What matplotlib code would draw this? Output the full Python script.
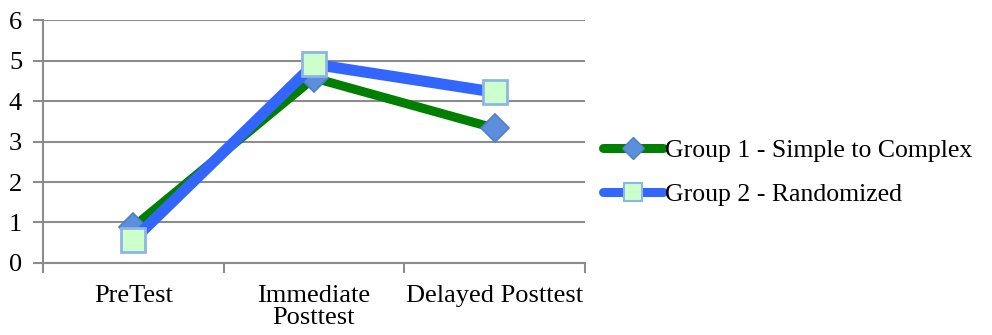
import matplotlib
matplotlib.use("Agg")
import matplotlib.pyplot as plt
from matplotlib.lines import Line2D

categories = ["PreTest", "Immediate\nPosttest", "Delayed Posttest"]
group1 = [0.89, 4.57, 3.33]
group2 = [0.57, 4.91, 4.22]
series_names = ["Group 1 - Simple to Complex", "Group 2 - Randomized"]
y_ticks = [0, 1, 2, 3, 4, 5, 6]

GRID = "#8c8c8c"
GREEN = "#007f00"
BLUE = "#3366ff"

plt.rcParams["font.family"] = ["Liberation Serif", "DejaVu Serif"]

fig = plt.figure(figsize=(9.92, 3.35), dpi=100)
ax = fig.add_axes([0.0433, 0.215, 0.5464, 0.725])

x = list(range(len(categories)))
ax.plot(x, group1, color=GREEN, linewidth=6.5, solid_capstyle="round",
        marker="D", markersize=14, markerfacecolor="#5b8fdc",
        markeredgecolor="#4f7fc8", markeredgewidth=1.2, zorder=3)
ax.plot(x, group2, color=BLUE, linewidth=8, solid_capstyle="round",
        marker="s", markersize=17, markerfacecolor="#ccffcc",
        markeredgecolor="#8fb4e6", markeredgewidth=2, zorder=4)

ax.set_xlim(-0.5, len(categories) - 0.5)
ax.set_ylim(0, 6)
ax.set_yticks(y_ticks)
ax.set_yticklabels([str(t) for t in y_ticks], fontsize=19)
ax.yaxis.grid(True, color=GRID, linewidth=1.5)
ax.set_axisbelow(True)

# category labels centred, tick marks on the boundaries between them
ax.set_xticks([i - 0.5 for i in range(len(categories) + 1)], minor=False)
ax.set_xticklabels([""] * (len(categories) + 1))
ax.set_xticks(x, minor=True)
ax.set_xticklabels(categories, minor=True, fontsize=19, linespacing=1.0)
ax.tick_params(axis="x", which="major", length=7, width=1.5, color=GRID)
ax.tick_params(axis="x", which="minor", length=0, pad=16)
ax.tick_params(axis="y", length=7, width=1.5, color=GRID, pad=8)

for side in ["top", "right"]:
    ax.spines[side].set_visible(False)
for side in ["left", "bottom"]:
    ax.spines[side].set_color(GRID)
    ax.spines[side].set_linewidth(1.5)

handles = [
    Line2D([], [], color=GREEN, linewidth=6.5, solid_capstyle="round",
           marker="D", markersize=11, markerfacecolor="#5b8fdc",
           markeredgecolor="#4f7fc8"),
    Line2D([], [], color=BLUE, linewidth=6.5, solid_capstyle="round",
           marker="s", markersize=13, markerfacecolor="#ccffcc",
           markeredgecolor="#8fb4e6", markeredgewidth=1.5),
]
fig.legend(handles, series_names, loc="center left",
           bbox_to_anchor=(0.585, 0.485), frameon=False, fontsize=18.5,
           handlelength=2.3, handletextpad=0.1, labelspacing=0.8)

fig.savefig("out.png", dpi=100)
